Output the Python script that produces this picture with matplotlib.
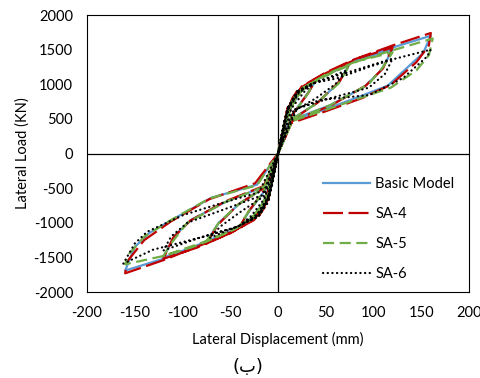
import matplotlib
matplotlib.use('Agg')
import matplotlib.pyplot as plt

# hysteresis loops (displacement mm, load kN)
bm_x = [0, 8, 15, 20, 12, 0, -8, -15, -20, -12, 0,
        10, 25, 40, 30, 15, 0, -10, -25, -40, -30, -15, 0,
        10, 25, 45, 75, 62, 40, 15, 0, -10, -25, -45, -75, -62, -40, -15, 0,
        10, 25, 50, 85, 120, 108, 90, 55, 15, 0, -10, -25, -50, -85, -120, -108, -90, -55, -15, 0,
        10, 25, 50, 80, 120, 160, 152, 140, 115, 85, 50, 15, 0,
        -10, -25, -50, -80, -120, -160, -150, -135, -110, -70, -22, 0]
bm_y = [0, 500, 780, 880, 600, 0, -500, -780, -880, -600, 0,
        600, 920, 1060, 850, 560, 0, -600, -900, -1050, -830, -560, 0,
        620, 930, 1100, 1290, 1000, 720, 500, 0, -620, -920, -1100, -1280, -1000, -720, -500, 0,
        630, 940, 1140, 1360, 1500, 1200, 960, 700, 490, 0, -630, -930, -1130, -1340, -1500, -1180, -950, -700, -480, 0,
        640, 950, 1150, 1340, 1530, 1700, 1450, 1300, 980, 820, 640, 480, 0,
        -640, -940, -1130, -1300, -1520, -1690, -1350, -1150, -950, -640, -450, 0]

sa4_x = [0, 8, 15, 20, 12, 0, -8, -15, -20, -12, 0,
         10, 25, 40, 32, 15, 0, -10, -25, -40, -32, -15, 0,
         10, 25, 45, 75, 65, 42, 15, 0, -10, -25, -45, -75, -63, -42, -15, 0,
         10, 25, 50, 85, 120, 110, 92, 55, 15, 0, -10, -25, -50, -85, -120, -110, -92, -55, -15, 0,
         10, 25, 50, 80, 120, 160, 158, 145, 118, 88, 50, 14, 0,
         -10, -25, -50, -80, -120, -160, -158, -140, -112, -72, -24, 0]
sa4_y = [0, 520, 800, 900, 620, 0, -520, -800, -900, -620, 0,
         620, 940, 1080, 880, 560, 0, -620, -920, -1060, -860, -540, 0,
         640, 950, 1110, 1310, 1050, 740, 490, 0, -640, -930, -1110, -1300, -1030, -740, -500, 0,
         650, 960, 1160, 1380, 1530, 1230, 980, 690, 470, 0, -650, -950, -1150, -1360, -1520, -1220, -970, -690, -470, 0,
         660, 970, 1170, 1360, 1560, 1740, 1560, 1320, 990, 800, 610, 440, 0,
         -660, -960, -1150, -1320, -1540, -1730, -1560, -1250, -980, -660, -430, 0]

sa5_x = [0, 8, 15, 20, 12, 0, -8, -15, -20, -12, 0,
         10, 25, 40, 30, 15, 0, -10, -25, -40, -30, -15, 0,
         10, 25, 45, 75, 64, 40, 15, 0, -10, -25, -45, -75, -62, -40, -15, 0,
         10, 25, 50, 85, 120, 110, 95, 55, 15, 0, -10, -25, -50, -85, -120, -112, -95, -55, -15, 0,
         10, 25, 50, 80, 120, 162, 158, 145, 118, 88, 50, 15, 0,
         -10, -25, -50, -80, -120, -160, -156, -140, -112, -72, -22, 0]
sa5_y = [0, 500, 770, 870, 590, 0, -500, -770, -870, -590, 0,
         600, 910, 1060, 840, 550, 0, -600, -890, -1040, -820, -550, 0,
         610, 920, 1090, 1280, 1020, 720, 500, 0, -610, -910, -1090, -1270, -1000, -720, -500, 0,
         620, 930, 1130, 1340, 1460, 1250, 1000, 700, 480, 0, -620, -920, -1120, -1330, -1480, -1300, -1000, -700, -480, 0,
         630, 940, 1140, 1320, 1490, 1660, 1420, 1200, 950, 810, 630, 470, 0,
         -630, -930, -1120, -1290, -1480, -1600, -1450, -1200, -960, -650, -460, 0]

sa6_x = [0, 6, 12, 20, 12, 0, -6, -12, -20, -12, 0,
         10, 22, 38, 28, 14, 0, -10, -22, -38, -28, -14, 0,
         10, 22, 40, 72, 60, 40, 15, 0, -10, -22, -40, -72, -60, -40, -15, 0,
         10, 22, 40, 75, 120, 112, 95, 50, 18, 0, -10, -22, -43, -82, -120, -112, -95, -55, -16, 0,
         10, 20, 37, 62, 96, 124, 160, 156, 131, 96, 44, 20, 0,
         -10, -20, -43, -82, -131, -162, -150, -137, -99, -60, -20, 0]
sa6_y = [0, 450, 700, 900, 680, 0, -450, -700, -900, -700, 0,
         620, 880, 1020, 900, 650, 0, -620, -880, -1020, -900, -650, 0,
         640, 900, 1030, 1200, 1000, 800, 600, 0, -640, -900, -1040, -1220, -1050, -850, -620, 0,
         650, 920, 1030, 1180, 1370, 1150, 950, 780, 640, 0, -650, -920, -1060, -1216, -1400, -1200, -1000, -800, -600, 0,
         660, 880, 1016, 1086, 1254, 1374, 1500, 1398, 1090, 845, 773, 653, 0,
         -700, -900, -1060, -1216, -1390, -1590, -1300, -1130, -888, -720, -560, 0]

labels = ['Basic Model', 'SA-4', 'SA-5', 'SA-6']

plt.rcParams['font.family'] = ['Lato', 'DejaVu Sans']
plt.rcParams['font.size'] = 10
plt.rcParams['axes.unicode_minus'] = False

fig = plt.figure(figsize=(4.81, 3.78), dpi=100)
ax = fig.add_axes([87/481, 86/378, 382/481, 277/378])

ax.axhline(0, color='black', lw=0.9, zorder=1)
ax.axvline(0, color='black', lw=0.9, zorder=1)

ax.plot(bm_x, bm_y, color='#5B9BD5', lw=1.6, label=labels[0], zorder=2)
ax.plot(sa4_x, sa4_y, color='#C00000', lw=1.6, linestyle=(0, (9, 2.5)), label=labels[1], zorder=3)
ax.plot(sa5_x, sa5_y, color='#70AD47', lw=1.6, linestyle=(0, (5, 2.5)), label=labels[2], zorder=4)
ax.plot(sa6_x, sa6_y, color='black', lw=1.6, linestyle=(0, (0.1, 2.0)),
        dash_capstyle='round', label=labels[3], zorder=5)

ax.set_xlim(-200, 200)
ax.set_ylim(-2000, 2000)
ax.set_xticks(range(-200, 201, 50))
ax.set_yticks(range(-2000, 2001, 500))
ax.tick_params(length=0, labelsize=10.5, pad=10)
for s in ax.spines.values():
    s.set_linewidth(0.8)

ax.set_xlabel('Lateral Displacement (mm)', fontsize=10.5, labelpad=9)
ax.set_ylabel('Lateral Load (KN)', fontsize=10.5, labelpad=3)

leg = ax.legend(loc='upper left', bbox_to_anchor=(323/481, 1 - 177/378),
                bbox_transform=fig.transFigure, frameon=False, borderpad=0,
                borderaxespad=0, handlelength=3.2, handletextpad=0.4,
                labelspacing=1.1, fontsize=10.5)

fig.text(248/481, 1 - 367/378, '(ب)', ha='center', va='center', fontsize=13,
         family=['DejaVu Sans'])

fig.savefig('out.png', dpi=100)
